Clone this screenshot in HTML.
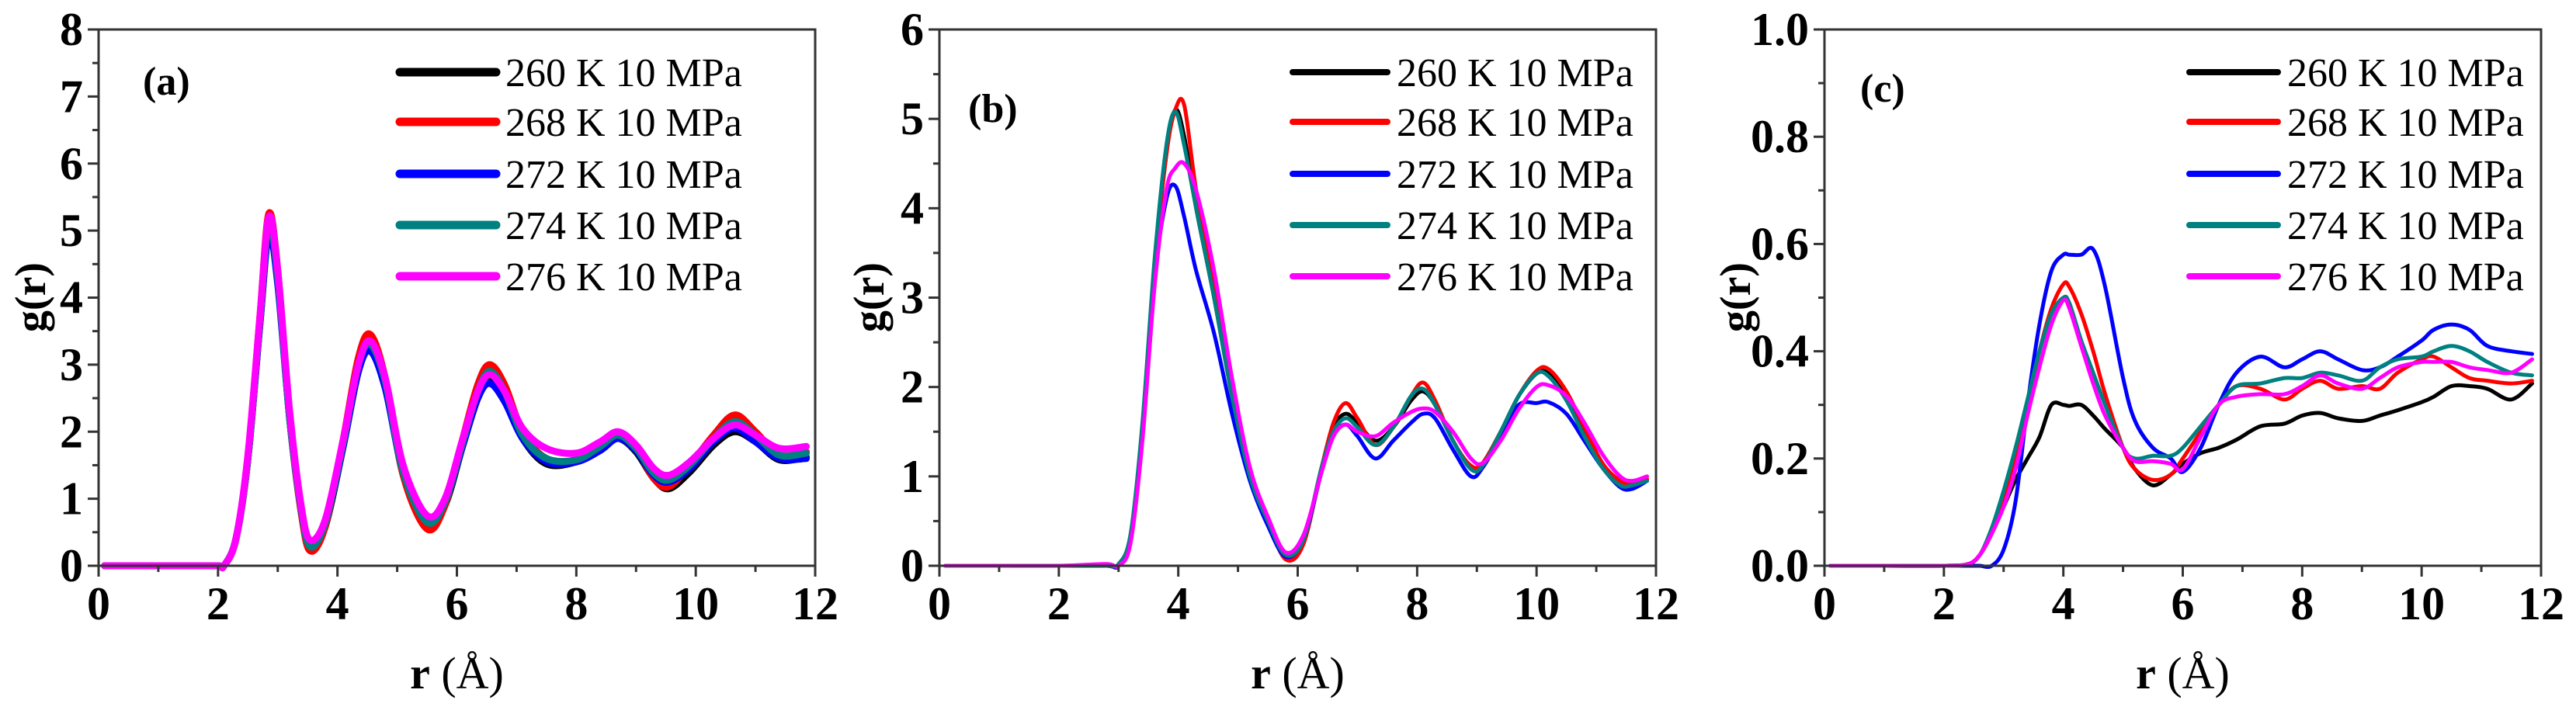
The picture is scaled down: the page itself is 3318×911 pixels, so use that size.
<!DOCTYPE html>
<html><head><meta charset="utf-8"><style>
html,body{margin:0;padding:0;background:#fff;}
svg{display:block;}
text{font-family:"Liberation Serif","Times New Roman",serif;}
</style></head><body>
<svg id="fig" width="3318" height="911" viewBox="0 0 3318 911" xmlns="http://www.w3.org/2000/svg"></svg>
<script>
const seriesLabels = ["260 K 10 MPa","268 K 10 MPa","272 K 10 MPa","274 K 10 MPa","276 K 10 MPa"];
const seriesColors = ["#000000","#ff0000","#0000ff","#008080","#ff00ff"];
const xTickLabels = ["0","2","4","6","8","10","12"];

const rA = [0.1,0.5,1,1.5,2,2.1,2.3,2.5,2.7,2.85,3.0,3.2,3.4,3.55,3.8,4.1,4.35,4.55,4.8,5.1,5.5,5.8,6.1,6.35,6.55,6.8,7.1,7.5,8.0,8.4,8.7,9.0,9.3,9.55,9.9,10.3,10.65,11.0,11.4,11.85];
const a260 = [0,0,0,0,0,0,0.4,1.6,3.6,5.0,4.3,2.2,0.8,0.3,0.6,1.8,2.9,3.25,2.7,1.4,0.62,0.9,1.8,2.5,2.75,2.5,1.9,1.52,1.55,1.75,1.9,1.7,1.3,1.15,1.4,1.8,2.0,1.85,1.58,1.62];
const a268 = [0,0,0,0,0,0,0.4,1.6,3.7,5.25,4.4,2.2,0.75,0.22,0.6,1.9,3.1,3.45,2.8,1.35,0.55,0.9,1.9,2.7,3.0,2.7,2.0,1.6,1.58,1.8,1.95,1.75,1.3,1.18,1.5,1.95,2.25,2.0,1.65,1.7];
const a272 = [0,0,0,0,0,0,0.4,1.6,3.6,4.95,4.2,2.2,0.8,0.3,0.65,1.8,2.9,3.2,2.65,1.4,0.66,0.95,1.8,2.5,2.72,2.45,1.9,1.55,1.55,1.72,1.9,1.72,1.35,1.25,1.45,1.85,2.05,1.85,1.6,1.6];
const a274 = [0,0,0,0,0,0,0.4,1.6,3.65,5.1,4.3,2.2,0.8,0.28,0.65,1.85,3.0,3.3,2.75,1.4,0.65,0.95,1.85,2.6,2.9,2.6,1.95,1.6,1.58,1.78,1.95,1.75,1.38,1.28,1.5,1.9,2.15,1.95,1.65,1.68];
const a276 = [0,0,0,0,0,0,0.4,1.65,3.7,5.2,4.4,2.3,0.85,0.38,0.7,1.9,3.0,3.35,2.8,1.5,0.75,1.0,1.9,2.6,2.85,2.6,2.05,1.75,1.68,1.85,2.0,1.8,1.45,1.35,1.55,1.9,2.1,1.95,1.75,1.78];

const rB = [0.1,1,2,2.8,3.0,3.2,3.4,3.6,3.8,3.95,4.1,4.3,4.6,4.9,5.2,5.5,5.8,6.1,6.4,6.6,6.8,7.0,7.3,7.6,7.9,8.1,8.3,8.6,8.9,9.1,9.4,9.7,10.0,10.2,10.5,10.8,11.1,11.4,11.6,11.85];
const b260 = [0,0,0,0,0,0.3,1.5,3.3,4.6,5.1,4.8,4.0,3.0,1.9,1.0,0.5,0.12,0.3,1.1,1.55,1.7,1.6,1.4,1.55,1.85,1.95,1.8,1.4,1.1,1.15,1.5,1.9,2.15,2.15,1.9,1.5,1.15,0.9,0.9,0.95];
const b268 = [0,0,0,0,0,0.3,1.5,3.3,4.6,5.1,5.15,4.2,3.1,1.95,1.0,0.5,0.07,0.25,1.1,1.6,1.82,1.65,1.35,1.55,1.9,2.05,1.85,1.4,1.12,1.15,1.5,1.9,2.18,2.2,1.95,1.55,1.15,0.95,0.92,0.97];
const b272 = [0,0,0,0,0,0.3,1.5,3.2,4.1,4.25,3.9,3.3,2.6,1.7,0.95,0.45,0.1,0.3,1.05,1.45,1.58,1.45,1.2,1.4,1.6,1.7,1.65,1.3,1.0,1.1,1.45,1.8,1.82,1.83,1.7,1.4,1.1,0.88,0.86,0.95];
const b274 = [0,0,0,0,0.02,0.35,1.6,3.4,4.7,5.08,4.7,4.0,3.0,1.9,1.0,0.5,0.12,0.3,1.1,1.5,1.65,1.55,1.35,1.55,1.9,1.98,1.8,1.4,1.08,1.12,1.5,1.9,2.15,2.12,1.85,1.45,1.1,0.9,0.9,0.95];
const b276 = [0,0,0,0.02,0,0.25,1.4,3.1,4.2,4.45,4.5,4.2,3.3,2.1,1.1,0.55,0.15,0.35,1.05,1.45,1.58,1.5,1.45,1.6,1.72,1.76,1.72,1.5,1.2,1.15,1.4,1.75,2.0,2.02,1.9,1.6,1.25,1.0,0.95,1.0];

const rC = [0.1,1,2,2.4,2.6,2.8,3.0,3.2,3.4,3.6,3.8,4.0,4.1,4.3,4.5,4.7,5.0,5.2,5.5,5.8,6.0,6.3,6.6,6.9,7.3,7.7,8.0,8.3,8.6,9.0,9.3,9.6,10.0,10.2,10.5,10.8,11.1,11.5,11.85];
const c260 = [0,0,0,0.003,0.02,0.06,0.11,0.16,0.2,0.24,0.3,0.3,0.298,0.3,0.28,0.255,0.22,0.18,0.15,0.17,0.19,0.21,0.22,0.235,0.26,0.265,0.28,0.285,0.275,0.27,0.28,0.29,0.305,0.315,0.335,0.335,0.33,0.31,0.34];
const c268 = [0,0,0,0.003,0.02,0.06,0.12,0.2,0.3,0.4,0.48,0.525,0.52,0.47,0.4,0.32,0.22,0.18,0.16,0.17,0.2,0.25,0.3,0.335,0.33,0.31,0.33,0.345,0.33,0.335,0.33,0.36,0.385,0.39,0.37,0.35,0.345,0.34,0.345];
const c272 = [0,0,0,0,0,0,0.03,0.12,0.3,0.45,0.55,0.58,0.58,0.58,0.59,0.52,0.35,0.27,0.22,0.2,0.175,0.22,0.3,0.36,0.39,0.37,0.385,0.4,0.385,0.365,0.37,0.39,0.42,0.44,0.45,0.44,0.41,0.4,0.395];
const c274 = [0,0,0,0.003,0.02,0.07,0.14,0.22,0.31,0.4,0.47,0.5,0.49,0.42,0.36,0.3,0.22,0.2,0.205,0.205,0.22,0.26,0.3,0.335,0.34,0.35,0.35,0.36,0.355,0.345,0.37,0.385,0.39,0.4,0.41,0.4,0.38,0.36,0.355];
const c276 = [0,0,0,0.003,0.02,0.06,0.11,0.18,0.28,0.37,0.45,0.495,0.48,0.41,0.34,0.28,0.22,0.195,0.195,0.19,0.18,0.24,0.3,0.315,0.32,0.32,0.335,0.355,0.34,0.33,0.35,0.37,0.38,0.38,0.38,0.37,0.365,0.36,0.385];

const yTicksA = ["0","1","2","3","4","5","6","7","8"];
const yTicksB = ["0","1","2","3","4","5","6"];
const yTicksC = ["0.0","0.2","0.4","0.6","0.8","1.0"];

const NS = "http://www.w3.org/2000/svg";
const svg = document.getElementById('fig');
function mk(tag, attrs, parent){
  const e = document.createElementNS(NS, tag);
  for (const k in attrs) e.setAttribute(k, attrs[k]);
  (parent||svg).appendChild(e);
  return e;
}
function smoothPath(pts){
  let d = "M"+pts[0][0].toFixed(1)+","+pts[0][1].toFixed(1);
  for (let i=0;i<pts.length-1;i++){
    const p0=pts[Math.max(i-1,0)], p1=pts[i], p2=pts[i+1], p3=pts[Math.min(i+2,pts.length-1)];
    const c1x=p1[0]+(p2[0]-p0[0])/6, c1y=p1[1]+(p2[1]-p0[1])/6;
    const c2x=p2[0]-(p3[0]-p1[0])/6, c2y=p2[1]-(p3[1]-p1[1])/6;
    d += " C"+c1x.toFixed(1)+","+c1y.toFixed(1)+" "+c2x.toFixed(1)+","+c2y.toFixed(1)+" "+p2[0].toFixed(1)+","+p2[1].toFixed(1);
  }
  return d;
}

const panels = [
  {id:"a", left:127, r:rA, series:[a260,a268,a272,a274,a276], yTicks:yTicksA, ymax:8, ystep:1, yminor:0.5, lw:9, lab:"(a)", labX:184, labY:122, legX:515, legW:124},
  {id:"b", left:1210, r:rB, series:[b260,b268,b272,b274,b276], yTicks:yTicksB, ymax:6, ystep:1, yminor:0.5, lw:5, lab:"(b)", labX:1247, labY:157, legX:1665, legW:122},
  {id:"c", left:2350, r:rC, series:[c260,c268,c272,c274,c276], yTicks:yTicksC, ymax:1, ystep:0.2, yminor:0.1, lw:5, lab:"(c)", labX:2396, labY:131, legX:2820, legW:114}
];
const TOP=38, BOT=729, W=923;
const legRows=[93,157,224,290,356];

panels.forEach(p=>{
  const g = mk('g',{});
  
  
  const xs = v => p.left + v/12*W;
  const ys = v => BOT - v/p.ymax*(BOT-TOP);
  const sg = mk('g',{}, g);
  
  
  p.series.forEach((vals,si)=>{
    const pts = p.r.map((rv,i)=>[xs(rv), ys(vals[i])]);
    const path = mk('path',{d:smoothPath(pts), fill:'none', stroke:seriesColors[si], 'stroke-width':p.lw, 'stroke-linejoin':'round','stroke-linecap':'round'}, sg);
    
    
  });
  const fr = mk('rect',{x:p.left,y:TOP,width:W,height:BOT-TOP,fill:'none',stroke:'#333','stroke-width':3}, g);
  
  
  for (let v=0; v<=12; v++){
    const major = v%2===0;
    const t = mk('line',{x1:xs(v),x2:xs(v),y1:BOT,y2:BOT+(major?14:8),stroke:'#333','stroke-width':3}, g);
    
    
  }
  xTickLabels.forEach((lbl,i)=>{
    const t = mk('text',{x:xs(i*2),y:798,'text-anchor':'middle','font-size':60,'font-weight':'bold'}, g);
    t.textContent = lbl;
    
    
  });
  const nMinor = Math.round(p.ymax/p.yminor);
  for (let k=0;k<=nMinor;k++){
    const v = k*p.yminor;
    const major = k%2===0;
    const t = mk('line',{x1:p.left,x2:p.left-(major?14:8),y1:ys(v),y2:ys(v),stroke:'#333','stroke-width':3}, g);
    
    
  }
  p.yTicks.forEach((lbl,i)=>{
    const t = mk('text',{x:p.left-20,y:ys(i*p.ystep)+20,'text-anchor':'end','font-size':60,'font-weight':'bold'}, g);
    t.textContent = lbl;
    
    
  });
  const yt = mk('text',{x:0,y:0,'text-anchor':'middle','font-size':56,'font-weight':'bold',transform:'translate('+(p.id==='a'?58:p.left-72-(p.id==='c'?24:0))+',383) rotate(-90)'}, g);
  yt.textContent = 'g(r)';
  
  
  const xt = mk('text',{x:p.left+W/2,y:887,'text-anchor':'middle','font-size':58}, g);
  xt.innerHTML = '<tspan font-weight="bold">r</tspan> (Å)';
  
  
  const pl = mk('text',{x:p.labX,y:p.labY,'font-size':52,'font-weight':'bold'}, g);
  pl.textContent = p.lab;
  
  
  seriesLabels.forEach((lbl,si)=>{
    const le = mk('g',{}, g);
    
    
    mk('line',{x1:p.legX,x2:p.legX+p.legW,y1:legRows[si],y2:legRows[si],stroke:seriesColors[si],'stroke-width':p.id==='a'?11:8,'stroke-linecap':'round'}, le);
    const t = mk('text',{x:p.legX+p.legW+12,y:legRows[si]+18,'font-size':52}, le);
    t.textContent = lbl;
  });
});
</script>
</body></html>
